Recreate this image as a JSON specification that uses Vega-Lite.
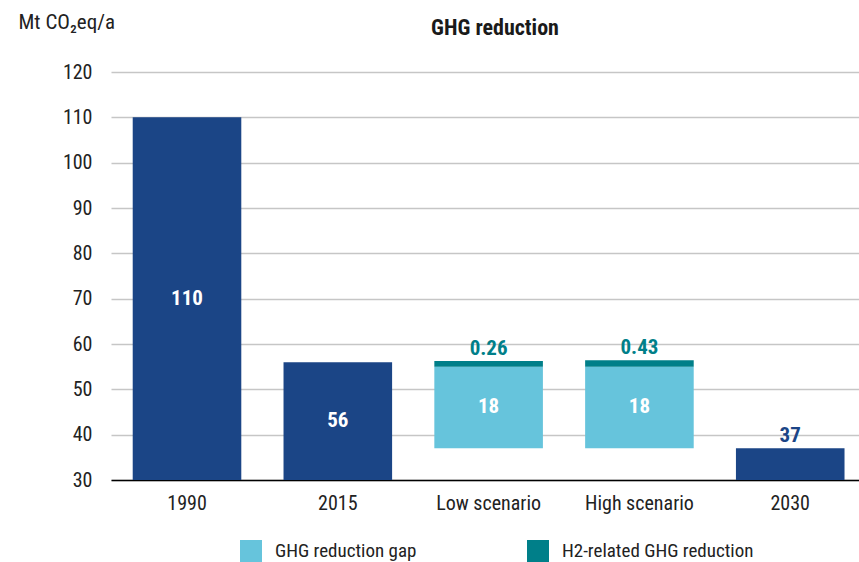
{
  "$schema": "https://vega.github.io/schema/vega-lite/v6.json",
  "width": 748,
  "height": 408,
  "autosize": {"type": "none"},
  "padding": {"left": 111, "top": 72, "right": 0, "bottom": 82},
  "title": {"text": "GHG reduction", "frame": "group", "anchor": "middle", "offset": -29, "dx": 10, "fontSize": 22, "fontWeight": "bold", "color": "#1a1a1a", "font": "Liberation Sans Narrow, Roboto Condensed, DejaVu Sans Condensed, sans-serif"},
  "config": {
    "view": {"stroke": null},
    "font": "Liberation Sans Narrow, Roboto Condensed, DejaVu Sans Condensed, sans-serif",
    "axis": {"labelFont": "Liberation Sans Narrow, Roboto Condensed, DejaVu Sans Condensed, sans-serif", "titleFont": "Liberation Sans Narrow, Roboto Condensed, DejaVu Sans Condensed, sans-serif", "labelColor": "#222222", "titleColor": "#222222"},
    "legend": {"labelFont": "Liberation Sans Narrow, Roboto Condensed, DejaVu Sans Condensed, sans-serif"}
  },
  "data": {
    "values": [
      {"cat": "1990", "series": "Total", "y0": 30, "y1": 110, "label": "110"},
      {"cat": "2015", "series": "Total", "y0": 30, "y1": 56, "label": "56"},
      {"cat": "Low scenario", "series": "GHG reduction gap", "y0": 37, "y1": 55, "label": "18"},
      {"cat": "Low scenario", "series": "H2-related GHG reduction", "y0": 55, "y1": 56.26, "label": "0.26"},
      {"cat": "High scenario", "series": "GHG reduction gap", "y0": 37, "y1": 55, "label": "18"},
      {"cat": "High scenario", "series": "H2-related GHG reduction", "y0": 55, "y1": 56.43, "label": "0.43"},
      {"cat": "2030", "series": "Total", "y0": 30, "y1": 37, "label": "37"}
    ]
  },
  "encoding": {
    "x": {
      "field": "cat", "type": "nominal",
      "sort": ["1990", "2015", "Low scenario", "High scenario", "2030"],
      "scale": {"paddingInner": 0.28, "paddingOuter": 0.12, "align": 0.6},
      "axis": {"title": null, "labelAngle": 0, "ticks": false, "domainColor": "#000000", "domainWidth": 1.5, "labelPadding": 13, "labelFontSize": 20, "grid": false}
    }
  },
  "layer": [
    {
      "mark": {"type": "bar"},
      "encoding": {
        "y": {
          "field": "y0", "type": "quantitative",
          "scale": {"domain": [30, 120], "nice": false, "zero": false},
          "axis": {
            "values": [30, 40, 50, 60, 70, 80, 90, 100, 110, 120],
            "domain": false, "ticks": false, "labelPadding": 19, "labelFontSize": 20,
            "grid": true, "gridColor": "#c6c6c6", "gridWidth": 1.5,
            "title": "Mt CO₂eq/a", "titleAngle": 0, "titleX": -93, "titleY": -50,
            "titleAlign": "left", "titleBaseline": "middle", "titleFontWeight": "normal", "titleFontSize": 21
          }
        },
        "y2": {"field": "y1"},
        "color": {
          "field": "series", "type": "nominal",
          "scale": {"domain": ["Total", "GHG reduction gap", "H2-related GHG reduction"], "range": ["#1b4586", "#66c4dc", "#007f89"]},
          "legend": {
            "values": ["GHG reduction gap", "H2-related GHG reduction"],
            "title": null, "orient": "none", "legendX": 129, "legendY": 468,
            "direction": "horizontal", "symbolType": "square", "symbolSize": 484,
            "symbolStrokeWidth": 0, "labelFontSize": 19, "labelOffset": 13, "labelLimit": 0,
            "columnPadding": 110, "labelColor": "#222222"
          }
        }
      }
    },
    {
      "transform": [
        {"filter": "datum.series == 'GHG reduction gap' || datum.cat == '1990' || datum.cat == '2015'"},
        {"calculate": "(datum.y0 + datum.y1) / 2", "as": "mid"}
      ],
      "mark": {"type": "text", "fontSize": 21, "fontWeight": "bold", "color": "white", "baseline": "middle"},
      "encoding": {
        "y": {"field": "mid", "type": "quantitative"},
        "text": {"field": "label"}
      }
    },
    {
      "transform": [
        {"filter": "datum.series == 'H2-related GHG reduction' || datum.cat == '2030'"}
      ],
      "mark": {"type": "text", "fontSize": 21, "fontWeight": "bold", "baseline": "bottom", "dy": -2},
      "encoding": {
        "y": {"field": "y1", "type": "quantitative"},
        "text": {"field": "label"},
        "color": {"condition": {"test": "datum.series == 'Total'", "value": "#1b4586"}, "value": "#007f89"}
      }
    }
  ]
}
